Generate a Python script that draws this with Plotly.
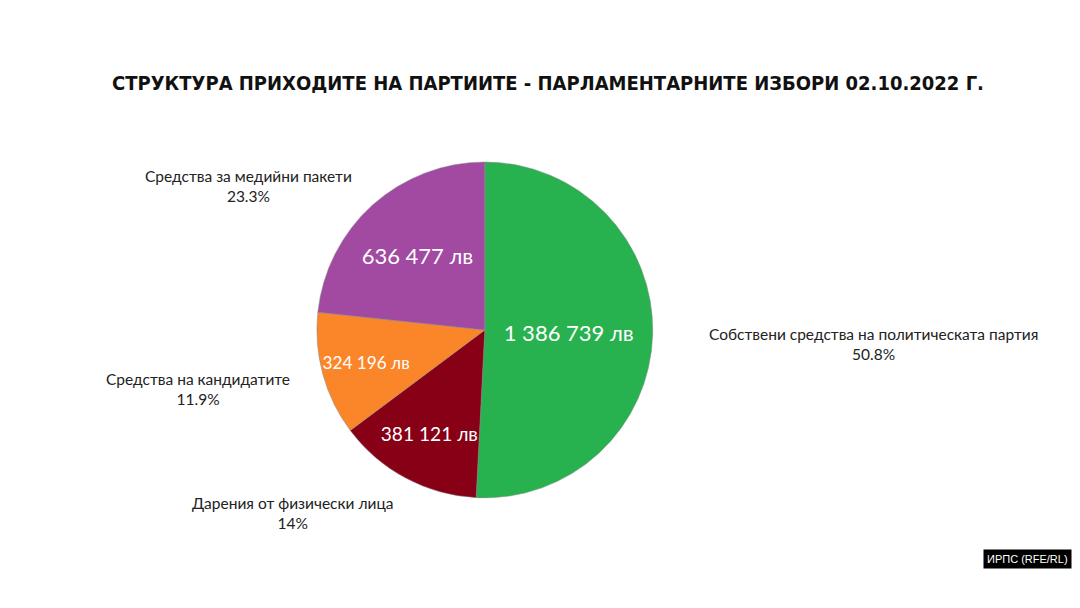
import plotly.graph_objects as go

categories = ["Собствени средства на политическата партия", "Дарения от физически лица",
              "Средства на кандидатите", "Средства за медийни пакети"]
values = [1386739, 381121, 324196, 636477]
value_labels = ["1 386 739 лв", "381 121 лв", "324 196 лв", "636 477 лв"]
pct_labels = ["50.8%", "14%", "11.9%", "23.3%"]
colors = ["#27b24f", "#870016", "#fb862a", "#a249a2"]

fig = go.Figure(go.Pie(
    labels=categories, values=values, text=value_labels,
    textinfo="text", textposition="inside", insidetextorientation="horizontal",
    textfont=dict(color="white", size=22, family="Lato"),
    marker=dict(colors=colors, line=dict(color="#888", width=0.5)),
    sort=False, direction="clockwise", rotation=0, showlegend=False,
    domain=dict(x=[0.286, 0.597], y=[0.194, 0.747]), hoverinfo="label+value"))

ann_pos = [(865, 336), (285, 505), (190, 381), (240, 178)]
anns = []
for (x, y), c, p in zip(ann_pos, categories, pct_labels):
    anns.append(dict(x=x/1080, y=1-y/608, xref="paper", yref="paper", showarrow=False,
                     xanchor="center", yanchor="middle",
                     text=f"{c}<br>{p}", align="center",
                     font=dict(size=15.5, color="#222", family="Lato")))
anns.append(dict(x=1064/1080, y=1-551/608, xref="paper", yref="paper", showarrow=False,
                 xanchor="right", yanchor="middle",
                 text="ИРПС (RFE/RL)", bgcolor="black", font=dict(color="white", size=11, family="Liberation Sans"),
                 borderpad=3))

fig.update_layout(
    width=1080, height=608, margin=dict(l=0, r=0, t=0, b=0),
    paper_bgcolor="white",
    title=dict(text="<b>СТРУКТУРА ПРИХОДИТЕ НА ПАРТИИТЕ - ПАРЛАМЕНТАРНИТЕ ИЗБОРИ 02.10.2022 Г.</b>",
               x=0.5, y=1-75/608, xanchor="center", yanchor="middle",
               font=dict(size=20, color="#111", family="DejaVu Sans Condensed")),
    annotations=anns)
fig.write_html("out.html")
